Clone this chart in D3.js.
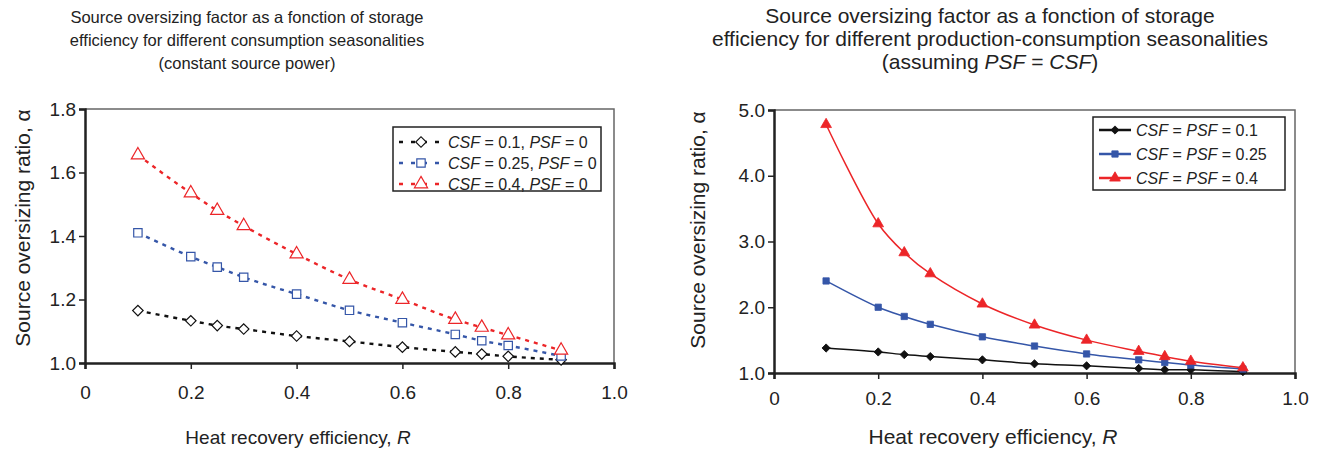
<!DOCTYPE html>
<html>
<head>
<meta charset="utf-8">
<script src="https://cdn.jsdelivr.net/npm/d3@7"></script>
<style>
  body { margin: 0; background: #fff; }
  text { font-family: "Liberation Sans", Arial, sans-serif; fill: #222; }
</style>
</head>
<body>
<div id="chart"></div>
<script>
// heat recovery efficiency R (shared by both panels)
const rValues = [0.1, 0.2, 0.25, 0.3, 0.4, 0.5, 0.6, 0.7, 0.75, 0.8, 0.9];

// left panel: constant source power, PSF = 0
const leftCsf01  = [1.165, 1.133, 1.118, 1.107, 1.085, 1.068, 1.050, 1.035, 1.028, 1.021, 1.010];
const leftCsf025 = [1.410, 1.335, 1.302, 1.270, 1.217, 1.166, 1.127, 1.090, 1.070, 1.055, 1.022];
const leftCsf04  = [1.655, 1.535, 1.480, 1.432, 1.343, 1.263, 1.200, 1.137, 1.112, 1.088, 1.040];

// right panel: PSF = CSF
const rightCsf01  = [1.38, 1.32, 1.28, 1.25, 1.20, 1.14, 1.11, 1.07, 1.05, 1.05, 1.02];
const rightCsf025 = [2.40, 2.00, 1.86, 1.74, 1.55, 1.41, 1.29, 1.20, 1.16, 1.12, 1.06];
const rightCsf04  = [4.78, 3.27, 2.83, 2.51, 2.05, 1.73, 1.50, 1.33, 1.25, 1.18, 1.08];

const xTicks = [0, 0.2, 0.4, 0.6, 0.8, 1.0];
const leftYTicks = [1.0, 1.2, 1.4, 1.6, 1.8];
const rightYTicks = [1, 2, 3, 4, 5];

const leftLegend = ["0.1", "0.25", "0.4"];
const rightLegend = ["0.1", "0.25", "0.4"];

const colors = ["#111", "#3556a8", "#ec2528"];
// diamond drawn as a square turned 45 degrees, like the spreadsheet marker
const shapes = [d3.symbolSquare, d3.symbolSquare, d3.symbolTriangle];
const rotations = [45, 0, 0];

const W = 1319, H = 459;
const svg = d3.select("#chart").append("svg")
    .attr("width", W)
    .attr("height", H);

function drawPanel(cfg) {
    const x = d3.scaleLinear().domain([0, 1]).range([cfg.left, cfg.right]);
    const y = d3.scaleLinear().domain(cfg.yDomain).range([cfg.bottom, cfg.top]);
    const g = svg.append("g");

    // title
    const title = g.append("text")
        .attr("x", cfg.titleX)
        .attr("y", 23)
        .attr("text-anchor", "middle")
        .style("font-size", cfg.titleSize + "px");
    cfg.titleLines.forEach((line, i) => {
        const ts = title.append("tspan").attr("x", cfg.titleX).attr("dy", i === 0 ? 0 : 23);
        line.forEach(part => {
            ts.append("tspan").text(part.t).style("font-style", part.i ? "italic" : null);
        });
    });

    // top/right frame
    g.append("path")
        .attr("d", `M${cfg.left},${cfg.top}H${cfg.right}V${cfg.bottom}`)
        .attr("fill", "none")
        .attr("stroke", "#666")
        .attr("stroke-width", 1.5);

    const xAxis = g.append("g")
        .attr("transform", `translate(0,${cfg.bottom})`)
        .call(d3.axisBottom(x).tickValues(xTicks).tickSize(6)
            .tickFormat(d => d === 0 ? "0" : d3.format(".1f")(d)));
    xAxis.select(".domain").attr("stroke", "#222").attr("stroke-width", 2.5);
    xAxis.selectAll(".tick line").attr("stroke", "#222").attr("stroke-width", 1.5);
    xAxis.selectAll(".tick text")
        .attr("y", cfg.xLabelY).attr("dy", 0)
        .style("font-size", "19px").attr("fill", "#222");

    const yAxis = g.append("g")
        .attr("transform", `translate(${cfg.left},0)`)
        .call(d3.axisLeft(y).tickValues(cfg.yTicks).tickSize(6).tickFormat(d3.format(".1f")));
    yAxis.select(".domain").attr("stroke", "#222").attr("stroke-width", 2.5);
    yAxis.selectAll(".tick line").attr("stroke", "#222").attr("stroke-width", 1.5);
    yAxis.selectAll(".tick text").attr("x", -9).style("font-size", "19px").attr("fill", "#222");

    // axis titles
    const xt = g.append("text")
        .attr("x", cfg.xTitleX)
        .attr("y", 444)
        .attr("text-anchor", "middle")
        .style("font-size", cfg.xTitleSize + "px");
    xt.append("tspan").text("Heat recovery efficiency, ");
    xt.append("tspan").text("R").style("font-style", "italic");

    g.append("text")
        .attr("transform", `translate(${cfg.yTitleX},${cfg.yTitleMid}) rotate(-90)`)
        .attr("text-anchor", "middle")
        .style("font-size", "21px")
        .text("Source oversizing ratio, \u03b1");

    const line = d3.line()
        .x((d, i) => x(rValues[i]))
        .y(d => y(d))
        .curve(cfg.curve);

    const marker = (sel, s) => sel
        .attr("d", d3.symbol().type(shapes[s]).size(cfg.symbolSize[s]))
        .attr("fill", cfg.dashed ? "#fff" : colors[s])
        .attr("stroke", colors[s])
        .attr("stroke-width", cfg.dashed ? 1.2 : 0.8);

    cfg.series.forEach((vals, s) => {
        g.append("path")
            .datum(vals)
            .attr("d", line)
            .attr("fill", "none")
            .attr("stroke", colors[s])
            .attr("stroke-width", cfg.dashed ? 2.4 : 1.5)
            .attr("stroke-dasharray", cfg.dashed ? "4,5" : null);
        g.selectAll(null)
            .data(vals)
            .enter().append("path")
                .attr("transform", (d, i) => `translate(${x(rValues[i])},${y(d)}) rotate(${rotations[s]})`)
                .call(marker, s);
    });

    // legend
    const lg = g.append("g");
    lg.append("rect")
        .attr("x", cfg.legend.x)
        .attr("y", cfg.legend.y)
        .attr("width", cfg.legend.w)
        .attr("height", cfg.legend.h)
        .attr("fill", "#fff")
        .attr("stroke", "#222")
        .attr("stroke-width", 1.5);
    cfg.legendLabels.forEach((lab, s) => {
        const yy = cfg.legend.y + cfg.legend.rowY[s];
        const x0 = cfg.legend.x + 6;
        lg.append("line")
            .attr("x1", x0).attr("x2", x0 + cfg.legend.lineW)
            .attr("y1", yy).attr("y2", yy)
            .attr("stroke", colors[s])
            .attr("stroke-width", cfg.dashed ? 2.4 : 2.5)
            .attr("stroke-dasharray", cfg.dashed ? "4,8" : null);
        lg.append("path")
            .attr("transform", `translate(${x0 + cfg.legend.lineW / 2},${yy}) rotate(${rotations[s]})`)
            .call(marker, s);
        const t = lg.append("text")
            .attr("x", x0 + cfg.legend.lineW + 5)
            .attr("y", yy + 6)
            .style("font-size", "16px");
        cfg.legendText(lab).forEach(part => {
            t.append("tspan").text(part.t).style("font-style", part.i ? "italic" : null);
        });
    });
}

drawPanel({
    left: 85, right: 614, top: 109, bottom: 363,
    yDomain: [1.0, 1.8], yTicks: leftYTicks,
    titleX: 247, titleSize: 16.5,
    titleLines: [
        [{t: "Source oversizing factor as a fonction of storage"}],
        [{t: "efficiency for different consumption seasonalities"}],
        [{t: "(constant source power)"}]
    ],
    xLabelY: 36,
    xTitleX: 298, xTitleSize: 19, yTitleX: 30, yTitleMid: 228,
    series: [leftCsf01, leftCsf025, leftCsf04],
    dashed: true,
    curve: d3.curveMonotoneX,
    symbolSize: [55, 70, 75],
    legendLabels: leftLegend,
    legendText: lab => [{t: "CSF", i: true}, {t: " = " + lab + ", "}, {t: "PSF", i: true}, {t: " = 0"}],
    legend: {x: 393, y: 127, w: 208, h: 64, lineW: 44, rowY: [15, 36, 57]}
});

drawPanel({
    left: 774, right: 1295, top: 110, bottom: 373,
    yDomain: [1, 5], yTicks: rightYTicks,
    titleX: 990, titleSize: 21,
    titleLines: [
        [{t: "Source oversizing factor as a fonction of storage"}],
        [{t: "efficiency for different production-consumption seasonalities"}],
        [{t: "(assuming "}, {t: "PSF", i: true}, {t: " = "}, {t: "CSF", i: true}, {t: ")"}]
    ],
    xLabelY: 32,
    xTitleX: 993, xTitleSize: 21, yTitleX: 705, yTitleMid: 230,
    series: [rightCsf01, rightCsf025, rightCsf04],
    dashed: false,
    curve: d3.curveCatmullRom,
    symbolSize: [34, 40, 50],
    legendLabels: rightLegend,
    legendText: lab => [{t: "CSF", i: true}, {t: " = "}, {t: "PSF", i: true}, {t: " = " + lab}],
    legend: {x: 1093, y: 117, w: 192, h: 73, lineW: 32, rowY: [13, 37, 61]}
});
</script>
</body>
</html>
